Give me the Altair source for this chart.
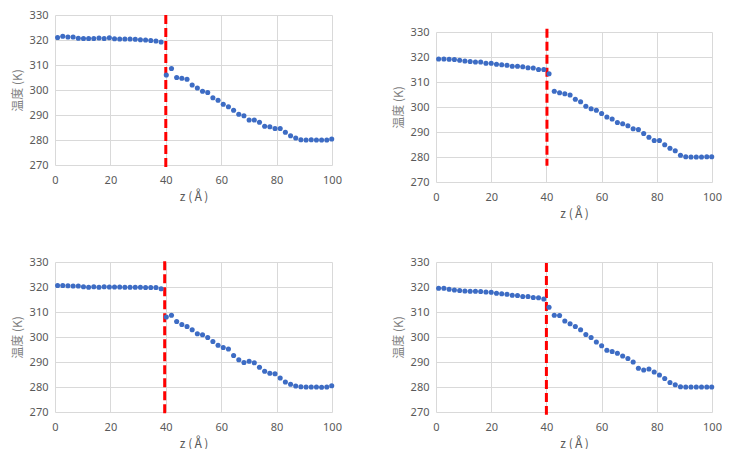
import altair as alt
import pandas as pd

# z positions (Å) of the bins
z_a = [0.93, 2.80, 4.67, 6.54, 8.41, 10.28, 12.14, 14.01, 15.88, 17.75,
       19.62, 21.49, 23.36, 25.23, 27.10, 28.97, 30.83, 32.70, 34.57, 36.44,
       38.31, 40.18, 42.05, 43.92, 45.79, 47.66, 49.52, 51.39, 53.26, 55.13,
       57.00, 58.87, 60.74, 62.61, 64.48, 66.35, 68.21, 70.08, 71.95, 73.82,
       75.69, 77.56, 79.43, 81.30, 83.17, 85.04, 86.90, 88.77, 90.64, 92.51,
       94.38, 96.25, 98.12, 99.90]
z_b = [0.95, 2.86, 4.76, 6.67, 8.57, 10.48, 12.38, 14.29, 16.19, 18.10,
       20.00, 21.91, 23.81, 25.72, 27.62, 29.53, 31.43, 33.34, 35.24, 37.15,
       39.05, 40.96, 42.86, 44.77, 46.67, 48.58, 50.48, 52.39, 54.29, 56.20,
       58.10, 60.01, 61.91, 63.82, 65.72, 67.63, 69.53, 71.44, 73.34, 75.25,
       77.15, 79.06, 80.96, 82.87, 84.77, 86.68, 88.58, 90.49, 92.39, 94.30,
       96.20, 98.11, 99.90]

# temperatures (K)
t1 = [321.0, 321.5, 321.2, 321.2, 320.7, 320.6, 320.6, 320.6, 320.8, 320.6,
      320.9, 320.5, 320.4, 320.4, 320.4, 320.3, 320.1, 320.0, 319.8, 319.6,
      319.2, 306.0, 308.6, 305.0, 304.7, 304.3, 302.0, 300.8, 299.5, 299.0,
      296.9, 295.9, 294.3, 293.3, 291.9, 290.3, 289.7, 288.0, 288.0, 287.1,
      285.5, 285.3, 284.6, 284.6, 283.1, 281.7, 280.8, 280.1, 280.0, 280.1,
      280.0, 280.0, 280.0, 280.4]
t2 = [319.2, 319.2, 319.1, 319.0, 318.7, 318.4, 318.2, 318.0, 318.0, 317.5,
      317.5, 317.1, 316.9, 316.7, 316.3, 316.3, 316.1, 315.7, 315.6, 315.0,
      315.0, 313.3, 306.3, 305.7, 305.3, 304.8, 303.1, 302.1, 300.3, 299.3,
      298.7, 297.4, 296.0, 295.2, 293.8, 293.3, 292.5, 291.3, 291.0, 289.4,
      287.9, 286.6, 286.6, 284.9, 283.5, 282.5, 280.7, 280.1, 280.0, 280.0,
      280.0, 280.1, 280.1]
t3 = [320.6, 320.6, 320.5, 320.4, 320.4, 320.1, 319.9, 320.1, 319.9, 320.1,
      320.0, 320.0, 320.0, 319.9, 319.9, 319.9, 319.9, 319.8, 319.8, 319.8,
      319.3, 308.0, 308.7, 306.2, 305.0, 304.2, 302.9, 301.3, 300.9, 299.8,
      298.2, 296.7, 295.8, 295.2, 292.6, 290.9, 289.8, 290.3, 289.7, 287.9,
      286.3, 285.5, 285.3, 283.6, 282.0, 281.1, 280.4, 280.1, 280.0, 280.0,
      280.0, 279.9, 280.0, 280.5]
t4 = [319.5, 319.5, 319.1, 318.8, 318.6, 318.4, 318.3, 318.3, 318.2, 318.0,
      317.9, 317.5, 317.3, 317.1, 316.7, 316.6, 316.2, 316.2, 315.8, 315.7,
      315.2, 311.9, 308.7, 308.6, 306.4, 305.3, 304.2, 302.9, 301.0, 299.8,
      298.0, 296.5, 294.7, 294.2, 293.5, 292.4, 291.4, 290.0, 287.5, 286.8,
      287.2, 286.0, 284.8, 283.4, 281.8, 280.9, 280.1, 280.0, 280.0, 280.0,
      280.0, 280.0, 280.0]

# interface marker (dashed red line) per panel
line_z = [40.0, 40.2, 39.6, 40.0]
line_top = [330.0, 331.3, 330.3, 329.6]
line_bottom = [269.0, 276.5, 269.3, 268.9]

x_ticks = [0, 20, 40, 60, 80, 100]
y_ticks = [270, 280, 290, 300, 310, 320, 330]
x_title = "z (\u212b)"
y_title = "温度 (K)"


def panel(z, t, i, width):
    pts = pd.DataFrame({"z": z, "T": t})
    ln = pd.DataFrame({"z": [line_z[i]], "y1": [line_top[i]], "y2": [line_bottom[i]]})
    xs = alt.Scale(domain=[0, 100], nice=False, zero=False)
    ys = alt.Scale(domain=[270, 330], nice=False, zero=False)
    xa = alt.Axis(values=x_ticks, title=x_title, labelPadding=9, titlePadding=6,
                  labelFlush=False)
    ya = alt.Axis(values=y_ticks, title=y_title, labelPadding=7, titlePadding=5,
                  labelFlush=False)
    rule = alt.Chart(ln).mark_rule(color="#ff0000", strokeWidth=3, strokeDash=[9, 4]).encode(
        x=alt.X("z:Q", scale=xs, axis=xa),
        y=alt.Y("y1:Q", scale=ys, axis=ya),
        y2="y2:Q",
    )
    points = alt.Chart(pts).mark_circle(size=26, color="#3d6cc4", opacity=1).encode(
        x=alt.X("z:Q", scale=xs, axis=xa),
        y=alt.Y("T:Q", scale=ys, axis=ya),
    )
    return alt.layer(rule, points).properties(width=width, height=150)


spacer = alt.Chart(pd.DataFrame({"s": [0]})).mark_point(opacity=0, size=1).properties(
    width=1, height=11
)

top = alt.hconcat(
    panel(z_a, t1, 0, 277),
    alt.vconcat(spacer, panel(z_b, t2, 1, 276), spacing=0),
    spacing=50,
)
bottom = alt.hconcat(panel(z_a, t3, 2, 277), panel(z_b, t4, 3, 276), spacing=50)

chart = alt.vconcat(top, bottom, spacing=37).properties(
    padding={"left": 3, "top": 1, "right": 0, "bottom": 0}
).configure_axis(
    grid=True,
    gridColor="#d9d9d9",
    gridWidth=1,
    domain=False,
    ticks=False,
    tickSize=0,
    labelColor="#595959",
    labelFont="Noto Sans",
    labelFontSize=11,
    titleColor="#7f7f7f",
    titleFont="Noto Sans CJK JP",
    titleFontSize=12,
    titleFontWeight="normal",
).configure_axisX(titleColor="#595959").configure_view(stroke=None)

chart.save("out.html", embed_options={"renderer": "svg", "actions": False})
